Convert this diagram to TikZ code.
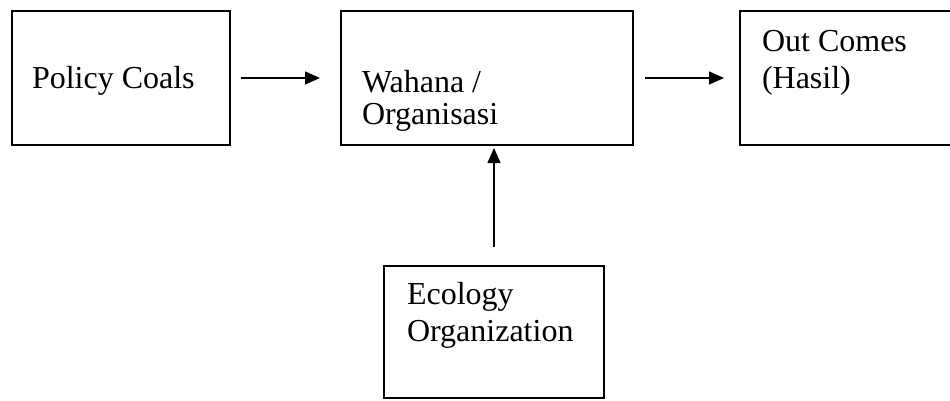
\documentclass[tikz,border=0pt]{standalone}
\usepackage{fontspec}
\setmainfont{Liberation Serif}
\usetikzlibrary{arrows.meta,positioning,calc}
\newcommand{\twolines}[3]{\fontsize{32pt}{#3}\selectfont\begin{tabular}[t]{@{}l@{}}#1\\#2\end{tabular}}
\begin{document}
\begin{tikzpicture}[x=1pt,y=-1pt,
  boxnode/.style={draw=black,line width=1.5pt,fill=none,inner sep=0pt,outer sep=0pt},
  lbl/.style={anchor=base west,inner sep=0pt,outer sep=0pt,font=\fontsize{32pt}{36pt}\selectfont},
  conn/.style={line width=1.4pt,-{Triangle[length=15pt,width=13pt]}}]
\clip (0,0) rectangle (950,400);
\useasboundingbox (0,0) rectangle (950,400);
% boxes
\node[boxnode,minimum width=218pt,minimum height=134pt] (policy) at (121,78) {};
\node[boxnode,minimum width=292pt,minimum height=134pt] (wahana) at (487,78) {};
\node[boxnode,minimum width=214pt,minimum height=134pt] (outc) at (847,78) {};
\node[boxnode,minimum width=220pt,minimum height=132pt] (ecol) at (494,332) {};
% texts
\node[lbl] (t1) at (32,88.3) {Policy Coals};
\node[lbl] (t2) at (362,92.7) {\twolines{Wahana /}{Organisasi}{31.7pt}};
\node[lbl] (t3) at (762,51.7) {\twolines{Out Comes}{(Hasil)}{36.6pt}};
\node[lbl] (t4) at (407,304.3) {\twolines{Ecology}{Organization}{37.4pt}};
% connectors
\coordinate (a1s) at ($(policy.east)+(11,0)$);
\coordinate (a1e) at ($(wahana.west)+(-21,0)$);
\coordinate (a2s) at ($(wahana.east)+(12,0)$);
\coordinate (a2e) at ($(outc.west)+(-16,0)$);
\coordinate (a3s) at ($(ecol.north)+(0,-19)$);
\coordinate (a3e) at ($(ecol.north)+(0,-118)$);
\draw[conn] (a1s) -- (a1e);
\draw[conn] (a2s) -- (a2e);
\draw[conn] (a3s) -- (a3e);
\end{tikzpicture}
\end{document}
